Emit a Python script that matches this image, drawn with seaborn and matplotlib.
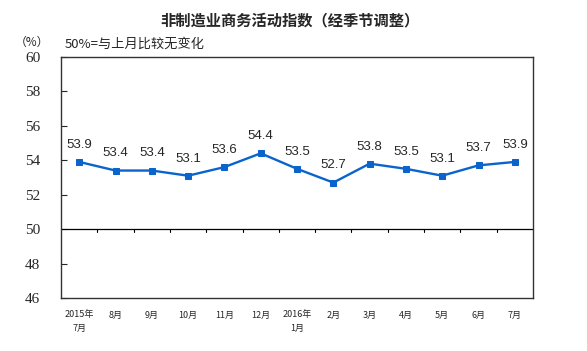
import matplotlib
matplotlib.use("Agg")
import matplotlib.pyplot as plt
import seaborn as sns
import pandas as pd

# data
months = ["2015年\n7月", "8月", "9月", "10月", "11月", "12月", "2016年\n1月",
          "2月", "3月", "4月", "5月", "6月", "7月"]
pmi = [53.9, 53.4, 53.4, 53.1, 53.6, 54.4, 53.5, 52.7, 53.8, 53.5, 53.1, 53.7, 53.9]
y_ticks = [46, 48, 50, 52, 54, 56, 58, 60]

df = pd.DataFrame({"pos": range(len(months)), "pmi": pmi})

sns.set_style("white")
plt.rcParams["font.family"] = ["Noto Sans CJK SC", "DejaVu Sans"]

fig = plt.figure(figsize=(5.87, 3.51), dpi=100)
ax = fig.add_axes([0.104, 0.151, 0.804, 0.687])

blue = "#0A64CC"
sns.lineplot(data=df, x="pos", y="pmi", ax=ax, color=blue, linewidth=1.7,
             marker="s", markersize=5, markeredgecolor=blue)

# value labels above the points
for x, v in zip(df["pos"], df["pmi"]):
    ax.annotate(f"{v:.1f}", (x, v), xytext=(0, 8), textcoords="offset points",
                ha="center", va="bottom", fontsize=9.5, family="Liberation Sans")

# 50 line with small ticks between months
ax.axhline(50, color="black", linewidth=0.9)
for i in range(len(months) - 1):
    ax.plot([i + 0.5, i + 0.5], [50, 49.82], color="black", linewidth=0.8)

ax.set_xlim(-0.5, len(months) - 0.5)
ax.set_ylim(46, 60)
ax.set_yticks(y_ticks)
ax.set_yticklabels([str(t) for t in y_ticks], family="Liberation Serif", fontsize=11)
ax.set_xticks(range(len(months)))
ax.set_xticklabels(months, fontsize=6.5, linespacing=1.6)
ax.tick_params(axis="x", length=0, pad=9)
ax.tick_params(axis="y", direction="in", length=4, width=0.8, pad=15, left=True)
ax.set_xlabel("")
ax.set_ylabel("")
for s in ax.spines.values():
    s.set_color("#333333")
    s.set_linewidth(1.0)

fig.text(0.494, 0.943, "非制造业商务活动指数（经季节调整）", ha="center", va="center",
         fontsize=11, fontweight="bold")
fig.text(0.054, 0.878, "（%）", ha="center", va="center", fontsize=8.5)
fig.text(0.111, 0.875, "50%=与上月比较无变化", ha="left", va="center", fontsize=9.5)

plt.savefig("out.png", dpi=100)
